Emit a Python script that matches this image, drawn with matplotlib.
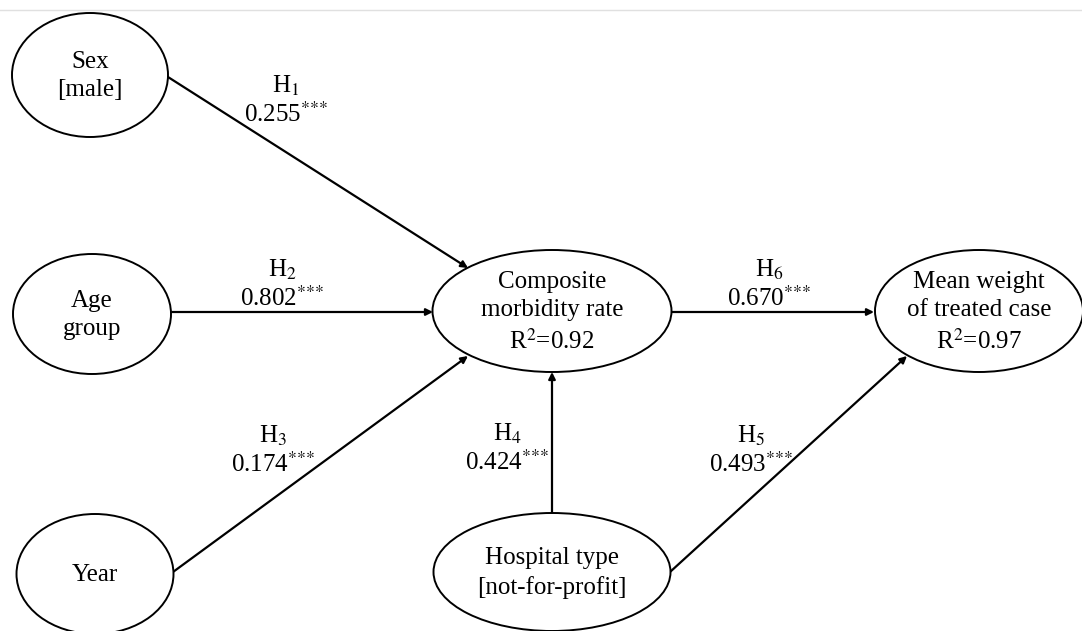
import matplotlib
matplotlib.use("Agg")
import matplotlib.pyplot as plt
from matplotlib.patches import Ellipse, FancyArrowPatch

plt.rcParams['font.family'] = ['Liberation Serif', 'DejaVu Serif']
plt.rcParams['mathtext.fontset'] = 'stix'

# ---- data ----
node_names = ["Sex", "Age", "Year", "CMR", "Hosp", "MW"]
node_labels = ["Sex\n[male]", "Age\ngroup", "Year",
               "Composite\nmorbidity rate\nR$^2$=0.92",
               "Hospital type\n[not-for-profit]",
               "Mean weight\nof treated case\nR$^2$=0.97"]
path_from = ["Sex", "Age", "Year", "Hosp", "Hosp", "CMR"]
path_to = ["CMR", "CMR", "CMR", "CMR", "MW", "MW"]
hypotheses = ["1", "2", "3", "4", "5", "6"]
coefficients = [0.255, 0.802, 0.174, 0.424, 0.493, 0.670]
significance = ["***", "***", "***", "***", "***", "***"]

# ---- layout (pixels) ----
node_center = {"Sex": (90, 75), "Age": (92, 314), "Year": (95, 574),
               "CMR": (552, 311), "Hosp": (552, 572), "MW": (979, 311)}
node_size = {"Sex": (156, 124), "Age": (158, 120), "Year": (157, 120),
             "CMR": (239, 122), "Hosp": (237, 118), "MW": (208, 122)}
arrow_start = [(168, 77), (172, 312), (173, 572), (552, 513), (670, 572), (672, 312)]
arrow_end = [(468, 268), (433, 312), (468, 356), (552, 372), (907, 356), (874, 312)]
label_pos = [(286, 100), (282, 284), (273, 450), (507, 448), (751, 450), (769, 284)]

fig = plt.figure(figsize=(10.82, 6.31), dpi=100)
ax = fig.add_axes([0, 0, 1, 1])
ax.set_xlim(0, 1082)
ax.set_ylim(631, 0)
ax.axis('off')

# top separator line
ax.plot([0, 1082], [10, 10], color='#e0e0e0', lw=1)

FS = 18
for name, lab in zip(node_names, node_labels):
    cx, cy = node_center[name]
    w, h = node_size[name]
    ax.add_patch(Ellipse((cx, cy), w, h, facecolor='white', edgecolor='black', lw=1.4, zorder=2))
    ax.text(cx, cy + 1, lab, ha='center', va='center', fontsize=FS, linespacing=1.38, zorder=3)

for i in range(len(path_from)):
    arr = FancyArrowPatch(arrow_start[i], arrow_end[i], arrowstyle='-|>',
                          mutation_scale=10, lw=1.6, color='black',
                          shrinkA=0, shrinkB=0, zorder=1)
    ax.add_patch(arr)
    x, y = label_pos[i]
    stars = "".join("{*}" for _ in significance[i])
    ax.text(x, y, "H$_{%s}$\n%.3f$^{%s}$" % (hypotheses[i], coefficients[i], stars),
            ha='center', va='center', fontsize=FS, linespacing=1.2)

fig.savefig("out.png", dpi=100, facecolor='white')
